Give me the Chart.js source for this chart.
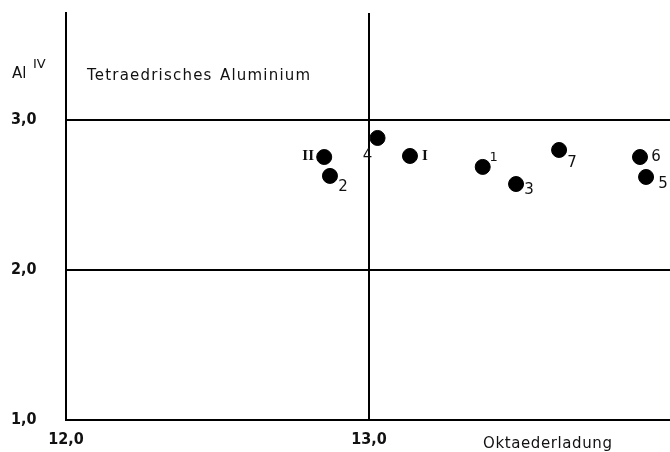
<!DOCTYPE html>
<html>
<head>
<meta charset="utf-8">
<script src="https://cdn.jsdelivr.net/npm/chart.js@4"></script>
<style>
  html, body { margin: 0; padding: 0; background: #fff; overflow: hidden; }
  #wrap { width: 670px; height: 452px; }
  canvas { display: block; }
</style>
</head>
<body>
<div id="wrap"><canvas id="myChart" width="670" height="452"></canvas></div>
<script>
"use strict";
// samples (Oktaederladung vs. Al IV)
const sampleNames = ["II", "2", "4", "I", "1", "3", "7", "6", "5"];
const octCharge = [12.852, 12.871, 13.028, 13.135, 13.375, 13.485, 13.627, 13.894, 13.914];
const alIV = [2.753, 2.627, 2.880, 2.760, 2.687, 2.573, 2.800, 2.753, 2.620];
const xTicks = [12, 13];
const yTicks = [1, 2, 3];

// where each sample label sits relative to its dot (px)
const labelOffsets = [
    [-16, -1], [13, 11], [-10, 18], [15, 0], [11, -9], [13, 6], [13, 13], [16, 0], [17, 7]
];
const FONT = "'DejaVu Sans', sans-serif";
const TICKFONT = "bold 16px 'Liberation Sans Narrow', 'DejaVu Sans Condensed', sans-serif";

const labelPlugin = {
    id: "labels",
    afterDatasetsDraw(chart) {
        const ctx = chart.ctx;
        const meta = chart.getDatasetMeta(0);
        const xs = chart.scales.x;
        const ys = chart.scales.y;
        ctx.save();
        ctx.fillStyle = "#111";
        ctx.textBaseline = "middle";
        ctx.textAlign = "center";
        meta.data.forEach((pt, i) => {
            const name = sampleNames[i];
            if (name.indexOf("I") >= 0) {
                ctx.font = "bold 15px 'Liberation Serif', serif";
            } else if (name === "1") {
                ctx.font = "13px " + FONT;
            } else {
                ctx.font = "15px " + FONT;
            }
            ctx.fillText(name, pt.x + labelOffsets[i][0], pt.y + labelOffsets[i][1]);
        });

        // tick labels
        ctx.font = TICKFONT;
        xTicks.forEach(v => {
            ctx.fillText(v.toFixed(1).replace(".", ","), xs.getPixelForValue(v), 440);
        });
        ctx.textAlign = "left";
        yTicks.forEach(v => {
            ctx.fillText(v.toFixed(1).replace(".", ","), 11, ys.getPixelForValue(v));
        });

        // text annotations
        ctx.font = "15px " + FONT;
        ctx.fillText("Al", 12, 74);
        ctx.font = "13px " + FONT;
        ctx.fillText("IV", 33, 65);
        ctx.font = "15px " + FONT;
        ctx.letterSpacing = "1.2px";
        ctx.fillText("Tetraedrisches", 87, 76);
        ctx.fillText("Aluminium", 220, 76);
        ctx.letterSpacing = "0.6px";
        ctx.fillText("Oktaederladung", 483, 444);
        ctx.restore();
    }
};

new Chart("myChart", {
    type: "scatter",
    data: {
        datasets: [{
            data: octCharge.map((x, i) => ({ x: x, y: alIV[i] })),
            backgroundColor: "#000",
            borderColor: "#000",
            pointRadius: 7.5,
            pointHoverRadius: 7.5
        }]
    },
    options: {
        responsive: false,
        animation: false,
        layout: { autoPadding: false, padding: { top: 13, right: 0, left: 0, bottom: 0 } },
        plugins: { legend: { display: false }, tooltip: { enabled: false } },
        scales: {
            x: {
                type: "linear",
                min: 12,
                max: 13.993,
                afterBuildTicks: (s) => { s.ticks = xTicks.map(v => ({ value: v })); },
                afterFit: (s) => { s.height = 32; },
                grid: { color: "#000", lineWidth: 2, drawTicks: false },
                border: { display: true, color: "#000", width: 2 },
                ticks: { display: false }
            },
            y: {
                type: "linear",
                min: 1,
                max: 3.713,
                afterBuildTicks: (s) => { s.ticks = yTicks.map(v => ({ value: v })); },
                afterFit: (s) => { s.width = 66; },
                grid: { color: "#000", lineWidth: 2, drawTicks: false },
                border: { display: true, color: "#000", width: 2 },
                ticks: { display: false }
            }
        }
    },
    plugins: [labelPlugin]
});
</script>
</body>
</html>
